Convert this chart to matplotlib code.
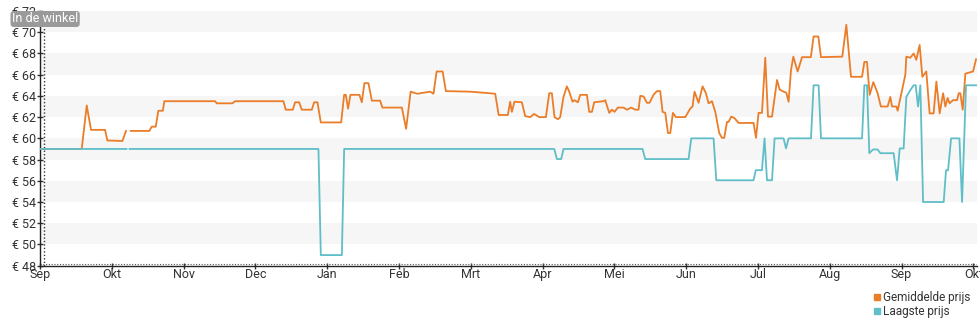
import numpy as np
import matplotlib.pyplot as plt
from matplotlib.lines import Line2D

plt.rcParams['font.family'] = ['Roboto', 'DejaVu Sans']

# x in months since start (0 = Sep, 13 = Okt next year)
avg_x = [0.00, 0.581, 0.651, 0.711, 0.906, 0.938, 1.147, 1.198, 1.226, 1.264,
         1.523, 1.556, 1.612, 1.648, 1.710, 1.732, 2.438, 2.462, 2.679, 2.717,
         3.390, 3.423, 3.521, 3.553, 3.609, 3.646, 3.786, 3.818, 3.864, 3.911,
         4.194, 4.236, 4.259, 4.291, 4.323, 4.449, 4.482, 4.518, 4.574, 4.622,
         4.737, 4.769, 5.040, 5.099, 5.162, 5.253, 5.434, 5.480, 5.524, 5.608,
         5.653, 5.981, 6.177, 6.340, 6.388, 6.516, 6.548, 6.572, 6.608, 6.711,
         6.757, 6.827, 6.883, 6.952, 7.046, 7.092, 7.129, 7.166, 7.213, 7.245,
         7.291, 7.338, 7.371, 7.417, 7.444, 7.492, 7.524, 7.617, 7.649, 7.687,
         7.719, 7.848, 7.872, 7.928, 7.965, 8.002, 8.049, 8.127, 8.174, 8.234,
         8.290, 8.336, 8.360, 8.406, 8.453, 8.489, 8.545, 8.592, 8.638, 8.671,
         8.708, 8.746, 8.778, 8.815, 8.857, 8.987, 9.056, 9.088, 9.116, 9.172,
         9.228, 9.275, 9.311, 9.359, 9.405, 9.460, 9.498, 9.530, 9.568, 9.590,
         9.628, 9.674, 9.729, 9.938, 9.972, 10.008, 10.055, 10.101, 10.139, 10.195,
         10.265, 10.301, 10.356, 10.394, 10.426, 10.459, 10.492, 10.552, 10.613, 10.736,
         10.774, 10.840, 10.877, 11.174, 11.230, 11.295, 11.449, 11.481, 11.518, 11.555,
         11.606, 11.666, 11.711, 11.805, 11.843, 11.867, 11.927, 11.945, 12.006, 12.052,
         12.066, 12.122, 12.168, 12.205, 12.251, 12.289, 12.344, 12.390, 12.446, 12.484,
         12.530, 12.578, 12.609, 12.641, 12.669, 12.716, 12.773, 12.795, 12.818, 12.851,
         12.888, 12.995, 13.037]
avg_price = [59.0, 59.0, 63.1, 60.8, 60.8, 59.8, 59.75, 60.7, np.nan, 60.7,
             60.7, 61.1, 61.1, 62.6, 62.6, 63.5, 63.5, 63.3, 63.3, 63.5,
             63.5, 62.7, 62.7, 63.4, 63.4, 62.7, 62.7, 63.4, 63.4, 61.5,
             61.5, 64.1, 64.1, 62.8, 64.1, 64.1, 63.4, 65.2, 65.2, 63.55,
             63.55, 62.9, 62.9, 60.9, 64.4, 64.2, 64.4, 64.2, 66.3, 66.3,
             64.45, 64.4, 64.3, 64.2, 62.2, 62.2, 63.45, 62.5, 63.45, 63.4,
             62.1, 62.0, 62.3, 62.0, 62.0, 64.25, 64.25, 62.0, 61.8, 62.0,
             63.9, 64.9, 64.4, 63.45, 63.6, 63.4, 64.1, 64.1, 62.5, 62.5,
             63.4, 63.5, 63.6, 62.4, 62.7, 62.5, 62.9, 62.9, 62.7, 62.9,
             62.7, 62.7, 64.0, 63.95, 63.35, 63.35, 64.1, 64.45, 64.45, 62.5,
             62.4, 60.5, 60.5, 62.4, 62.0, 62.0, 62.8, 63.0, 64.4, 63.35,
             64.9, 64.25, 63.3, 63.5, 62.5, 60.5, 60.05, 60.05, 61.55, 61.55,
             62.05, 61.9, 61.45, 61.45, 60.05, 62.4, 62.4, 67.6, 62.05, 62.05,
             65.5, 64.6, 64.4, 64.3, 63.45, 66.4, 67.7, 66.3, 67.65, 67.65,
             69.6, 69.6, 67.65, 67.7, 70.7, 65.8, 65.8, 67.2, 67.2, 64.1,
             65.3, 64.25, 63.0, 63.0, 63.9, 63.0, 63.0, 62.6, 64.55, 66.0,
             67.7, 67.6, 68.0, 67.4, 68.8, 65.8, 66.3, 62.35, 62.35, 65.35,
             62.35, 64.25, 63.0, 63.8, 63.3, 63.6, 63.6, 64.25, 64.25, 62.7,
             66.1, 66.3, 67.45]

low_x = [0.00, 1.205, 1.226, 1.247, 3.878, 3.911, 4.204, 4.236, 7.162, 7.199,
         7.259, 7.291, 8.392, 8.429, 9.033, 9.070, 9.381, 9.419, 9.938, 9.969,
         10.055, 10.091, 10.125, 10.195, 10.231, 10.356, 10.390, 10.426, 10.738, 10.774,
         10.844, 10.877, 11.449, 11.481, 11.518, 11.550, 11.602, 11.666, 11.704, 11.889,
         11.936, 11.973, 12.028, 12.066, 12.122, 12.168, 12.196, 12.229, 12.261, 12.299,
         12.586, 12.619, 12.647, 12.689, 12.805, 12.842, 12.897, 13.037]
low_price = [59.0, 59.0, np.nan, 59.0, 59.0, 49.0, 49.0, 59.0, 59.0, 58.05,
             58.05, 59.0, 59.0, 58.05, 58.05, 60.0, 60.0, 56.05, 56.05, 57.0,
             57.0, 60.0, 56.05, 56.05, 60.0, 60.0, 59.05, 60.0, 60.0, 65.0,
             65.0, 60.0, 60.0, 65.0, 65.0, 58.6, 58.95, 58.95, 58.6, 58.6,
             56.05, 59.05, 59.05, 63.9, 64.55, 65.0, 65.0, 63.0, 65.0, 54.0,
             54.0, 57.0, 57.0, 60.0, 60.0, 54.0, 65.0, 65.0]

months = ['Sep', 'Okt', 'Nov', 'Dec', 'Jan', 'Feb', 'Mrt', 'Apr', 'Mei',
          'Jun', 'Jul', 'Aug', 'Sep', 'Okt']
y_ticks = list(range(48, 73, 2))

orange = '#eb7d28'
teal = '#5fbec8'
text_col = '#333333'

fig = plt.figure(figsize=(9.8, 3.25), dpi=100)
ax = fig.add_axes([40 / 980, 59.3 / 325, 937 / 980, 254.7 / 325])

# alternating background bands
for lo in range(50, 72, 4):
    ax.axhspan(lo, lo + 2, color='#f6f6f6', lw=0, zorder=0)

ax.plot(avg_x, avg_price, color=orange, lw=1.3, zorder=3)
ax.plot(low_x, low_price, color=teal, lw=1.3, zorder=4)

ax.set_xlim(0, 13.05)
ax.set_ylim(48, 72)
ax.set_xticks(range(len(months)))
ax.set_xticklabels(months)
ax.set_yticks(y_ticks)
ax.set_yticklabels([f'€ {v}' for v in y_ticks])
ax.tick_params(axis='both', labelsize=9, colors=text_col, length=4, width=1,
               direction='inout', pad=1)
ax.tick_params(axis='x', pad=0)
for lab in ax.get_xticklabels() + ax.get_yticklabels():
    lab.set_color(text_col)

for side in ['top', 'right']:
    ax.spines[side].set_visible(False)
for side in ['left', 'bottom']:
    ax.spines[side].set_color('#222222')
    ax.spines[side].set_linewidth(1)

# dotted guide lines next to the axes
ax.axvline(0.055, color='#333333', lw=1, ls=(0, (1, 1.5)), zorder=2)
ax.axhline(48.12, color='#555555', lw=0.8, ls=(0, (1, 1.5)), zorder=2)

fig.text(12 / 980, 1 - 19 / 325, 'In de winkel', fontsize=9, color='white',
         va='center', ha='left',
         bbox=dict(boxstyle='round,pad=0.12,rounding_size=0.25',
                   fc='#9a9a9a', ec='none'))

handles = [Line2D([], [], marker='s', ls='', color=orange, markersize=4.5),
           Line2D([], [], marker='s', ls='', color=teal, markersize=4.5)]
fig.legend(handles, ['Gemiddelde prijs', 'Laagste prijs'], loc='lower right',
           bbox_to_anchor=(0.997, 0.0), frameon=False, fontsize=8.5,
           handletextpad=0.05, handlelength=0.8, labelspacing=0.1,
           labelcolor=text_col, borderaxespad=0.2)

fig.savefig('out.png', dpi=100)
